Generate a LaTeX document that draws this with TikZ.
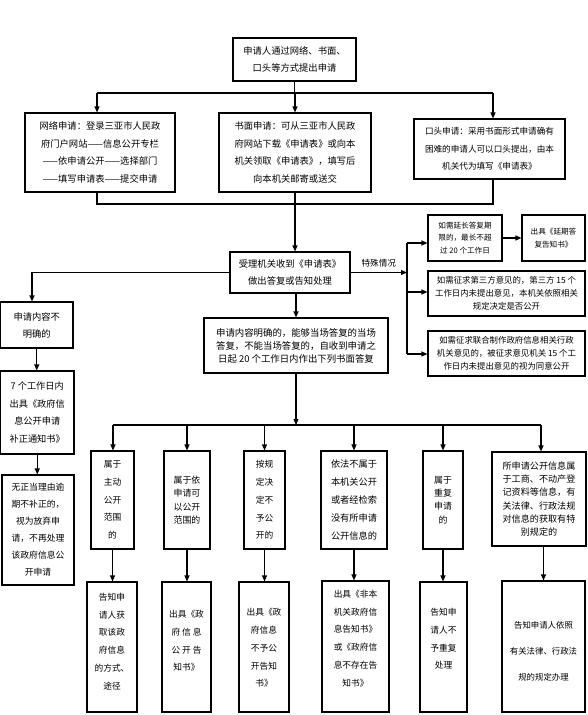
\documentclass[tikz,border=0pt]{standalone}
\usepackage{fontspec}
\setmainfont{Noto Sans CJK SC}
\usetikzlibrary{arrows.meta}
\begin{document}
\begin{tikzpicture}[x=1pt,y=-1pt,
  box/.style={draw, line width=1.1pt, inner sep=0pt, align=center},
  txt/.style={inner sep=0pt, align=center},
  arr/.style={line width=1.1pt, -{Triangle[length=6pt,width=5pt]}},
  ln/.style={line width=1.1pt},
  fbig/.style={font=\fontsize{9.3pt}{17.5pt}\selectfont},
  fmid/.style={font=\fontsize{8.4pt}{13pt}\selectfont},
  fsml/.style={font=\fontsize{7.6pt}{12.7pt}\selectfont},
  fcol/.style={font=\fontsize{8.7pt}{17.7pt}\selectfont},
  fcolt/.style={font=\fontsize{8.9pt}{13.4pt}\selectfont},
]
\fill[white] (0,0) rectangle (587,715);
\useasboundingbox (0,0) rectangle (587,715);

% top level
\node[box,fbig,minimum width=123pt,minimum height=43pt] (top) at (294.5,59.5) {申请人通过网络、书面、\\口头等方式提出申请};
\node[box,fbig,minimum width=150pt,minimum height=79pt] (net) at (100,152.5) {网络申请：登录三亚市人民政\\府门户网站——信息公开专栏\\——依申请公开——选择部门\\——填写申请表——提交申请};
\node[box,fbig,minimum width=152pt,minimum height=79pt] (write) at (295,152.5) {书面申请：可从三亚市人民政\\府网站下载《申请表》或向本\\机关领取《申请表》，填写后\\向本机关邮寄或送交};
\node[box,font=\fontsize{8.6pt}{17.5pt}\selectfont,minimum width=151pt,minimum height=60pt] (oral) at (489.5,149) {口头申请：采用书面形式申请确有\\困难的申请人可以口头提出，由本\\机关代为填写《申请表》};

\node[box,fbig,minimum width=120pt,minimum height=41pt] (recv) at (290,272.5) {受理机关收到《申请表》\\做出答复或告知处理};

% special cases
\node[box,fsml,minimum width=74pt,minimum height=46pt] (ext) at (465,238) {如需延长答复期\\限的，最长不超\\过 20 个工作日};
\node[box,fsml,minimum width=63pt,minimum height=46pt] (extout) at (553.5,238) {出具《延期答\\复告知书》};
\node[box,fmid,minimum width=157pt,minimum height=45pt] (third) at (506.5,293.5) {如需征求第三方意见的，第三方 15 个\\工作日内未提出意见，本机关依照相关\\规定决定是否公开};
\node[box,fmid,minimum width=157pt,minimum height=45pt] (joint) at (506.5,353.5) {如需征求联合制作政府信息相关行政\\机关意见的，被征求意见机关 15 个工\\作日内未提出意见的视为同意公开};

% left column
\node[box,font=\fontsize{9.3pt}{17pt}\selectfont,minimum width=72.5pt,minimum height=46pt] (unclear) at (36.75,325) {申请内容不\\明确的};
\node[box,font=\fontsize{9.2pt}{17.5pt}\selectfont,minimum width=73.5pt,minimum height=83pt] (notice7) at (37.25,412.5) {7 个工作日内\\出具《政府信\\息公开申请\\补正通知书》};
\node[box,font=\fontsize{8.8pt}{17pt}\selectfont,minimum width=72pt,minimum height=110pt] (abandon) at (38,530) {无正当理由逾\\期不补正的，\\视为放弃申\\请，不再处理\\该政府信息公\\开申请};

% clear request
\node[box,font=\fontsize{9.4pt}{13pt}\selectfont,minimum width=184pt,minimum height=55pt] (clear) at (296,345.5) {申请内容明确的，能够当场答复的当场\\答复，不能当场答复的，自收到申请之\\日起 20 个工作日内作出下列书面答复};

% categories
\node[box,fcol,minimum width=43pt,minimum height=98pt] (c1) at (112.5,500) {属于\\主动\\公开\\范围\\的};
\node[box,fcolt,minimum width=46pt,minimum height=98pt] (c2) at (187,500) {属于依\\申请可\\以公开\\范围的};
\node[box,fcol,minimum width=41pt,minimum height=98pt] (c3) at (264.5,500) {按规\\定决\\定不\\予公\\开的};
\node[box,font=\fontsize{9.2pt}{17.8pt}\selectfont,minimum width=66pt,minimum height=98pt] (c4) at (354,500) {依法不属于\\本机关公开\\或者经检索\\没有所申请\\公开信息的};
\node[box,fcolt,minimum width=40pt,minimum height=98pt] (c5) at (443,500) {属于\\重复\\申请\\的};
\node[box,font=\fontsize{9.1pt}{13.3pt}\selectfont,minimum width=94pt,minimum height=94pt] (c6) at (539,499) {所申请公开信息属\\于工商、不动产登\\记资料等信息，有\\关法律、行政法规\\对信息的获取有特\\别规定的};

% results (boxes, then their texts)
\node[box,minimum width=50pt,minimum height=130pt] (b1) at (112,647) {};
\node[box,minimum width=49pt,minimum height=130pt] (b2) at (186.5,647) {};
\node[box,minimum width=50pt,minimum height=130pt] (b3) at (264,647) {};
\node[box,minimum width=67pt,minimum height=131pt] (b4) at (355.5,646.5) {};
\node[box,minimum width=47pt,minimum height=130pt] (b5) at (443.5,647) {};
\node[box,minimum width=83pt,minimum height=131pt] (b6) at (543.5,646.5) {};
\node[txt,fcol] (b1t) at (112,641.5) {告知申\\请人获\\取该政\\府信息\\的方式、\\途径};
\node[txt,fcol] (b2t) at (186.5,641) {出具《政\\府 信 息\\公 开 告\\知书》};
\node[txt,fcol] (b3t) at (264,648) {出具《政\\府信息\\不予公\\开告知\\书》};
\node[txt,fcol] (b4t) at (355.5,638.5) {出具《非本\\机关政府信\\息告知书》\\或《政府信\\息不存在告\\知书》};
\node[txt,fcol] (b5t) at (443.5,639) {告知申\\请人不\\予重复\\处理};
\node[txt,font=\fontsize{8.4pt}{26pt}\selectfont] (b6t) at (543.5,651) {告知申请人依照\\有关法律、行政法\\规的规定办理};

% connectors: top to three methods
\coordinate (jl) at (97,93);
\coordinate (jr) at (493,93);
\draw[ln] (top.south) -- (top.south |- jl);
\draw[ln] (jl) -- (jr);
\draw[arr] (jl) -- (jl |- net.north);
\draw[arr] (write.north |- jl) -- (write.north);
\draw[arr] (jr) -- (jr |- oral.north);

% collecting
\coordinate (cl) at (97,204);
\coordinate (cr) at (493,204);
\draw[ln] (cl |- net.south) -- (cl) -- (cr) -- (cr |- oral.south);
\draw[arr] (write.south) -- (write.south |- recv.north);

% special cases
\coordinate (sp) at (407,272.5);
\coordinate (s1) at (407,243);
\coordinate (s2) at (407,292);
\coordinate (s3) at (407,354);
\draw[arr] (recv.east) -- (sp) node[midway,above=1pt,font=\fontsize{8.6pt}{10pt}\selectfont] {特殊情况};
\draw[ln] (s1) -- (s3);
\draw[arr] (s1) -- (s1 -| ext.west);
\draw[arr] (s2) -- (s2 -| third.west);
\draw[arr] (s3) -- (s3 -| joint.west);
\draw[arr] (ext.east) -- (extout.west);

% left branch
\coordinate (lk) at (32,272.5);
\draw[arr] (recv.west) -- (lk) -- (lk |- unclear.north);
\draw[arr] (unclear.south) -- (unclear.south |- notice7.north);
\draw[arr] (notice7.south) -- (notice7.south |- abandon.north);

% clear branch
\draw[arr] (clear.north |- recv.south) -- (clear.north);
\coordinate (dl) at (113,425);
\coordinate (dr) at (541,425);
\draw[ln] (dl) -- (dr);
\draw[arr] (clear.south) -- (clear.south |- dl);
\draw[arr] (dl) -- (dl |- c1.north);
\draw[arr] (c2.north |- dl) -- (c2.north);
\draw[arr] (c3.north |- dl) -- (c3.north);
\draw[arr] (c4.north |- dl) -- (c4.north);
\draw[arr] (c5.north |- dl) -- (c5.north);
\draw[arr] (dr) -- (dr |- c6.north);

% categories to results
\draw[arr] (c1.south) -- (c1.south |- b1.north);
\draw[arr] (c2.south) -- (c2.south |- b2.north);
\draw[arr] (c3.south) -- (c3.south |- b3.north);
\draw[arr] (c4.south) -- (c4.south |- b4.north);
\draw[arr] (c5.south) -- (c5.south |- b5.north);
\draw[arr] (b6.north |- c6.south) -- (b6.north);
\end{tikzpicture}
\end{document}
